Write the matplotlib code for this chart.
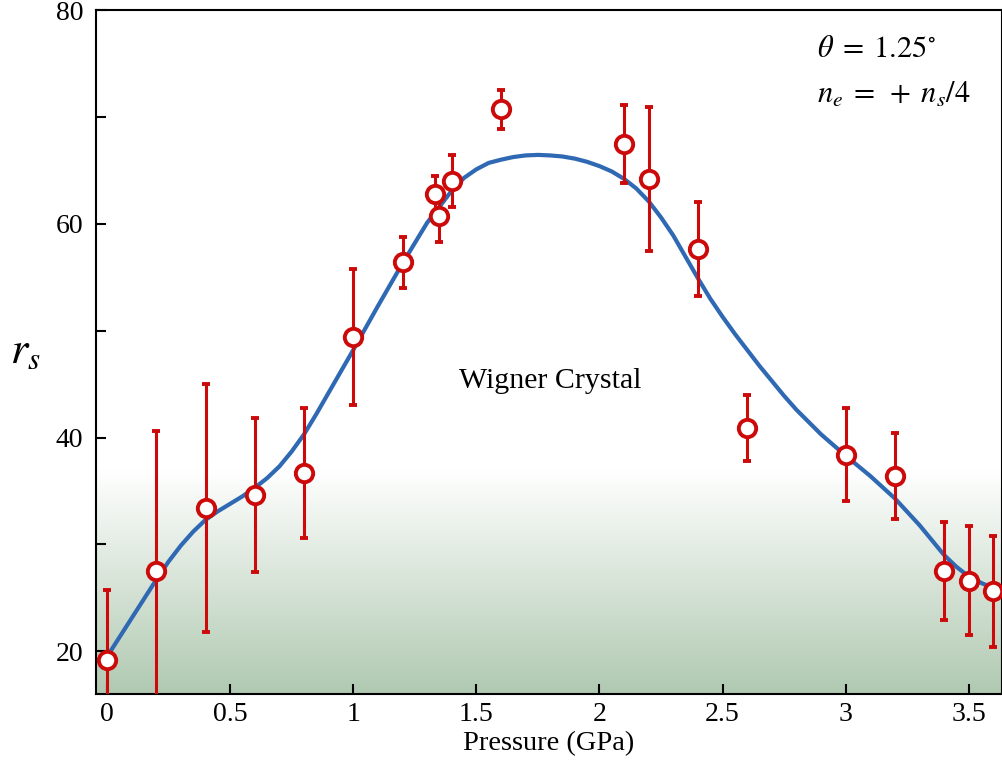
import numpy as np
import matplotlib
matplotlib.use("Agg")
import matplotlib.pyplot as plt
from matplotlib.ticker import FixedLocator, FuncFormatter
from matplotlib.colors import LinearSegmentedColormap

plt.rcParams['font.family'] = ['Liberation Serif', 'DejaVu Serif']
plt.rcParams['mathtext.fontset'] = 'stix'

# measured points: pressure (GPa), r_s, symmetric error
pressure = [0.0, 0.2, 0.4, 0.6, 0.8, 1.0, 1.2, 1.33, 1.35, 1.4, 1.6,
            2.1, 2.2, 2.4, 2.6, 3.0, 3.2, 3.4, 3.5, 3.6]
rs = [19.2, 27.5, 33.4, 34.6, 36.7, 49.4, 56.4, 62.8, 60.7, 64.0, 70.7,
      67.5, 64.2, 57.6, 40.9, 38.4, 36.4, 27.5, 26.6, 25.6]
rs_err = [6.5, 13.1, 11.6, 7.2, 6.1, 6.4, 2.4, 1.7, 2.4, 2.4, 1.85,
          3.65, 6.7, 4.4, 3.1, 4.35, 4.0, 4.6, 5.1, 5.2]

# guide-to-the-eye curve
curve_p = [0.0, 0.05, 0.1, 0.15, 0.2, 0.25, 0.3, 0.35, 0.4, 0.45, 0.5,
           0.55, 0.6, 0.65, 0.7, 0.75, 0.8, 0.85, 0.9, 1.0, 1.1, 1.2, 1.3,
           1.4, 1.45, 1.5, 1.55, 1.6, 1.65, 1.7, 1.75, 1.8, 1.85, 1.9, 1.95,
           2.0, 2.05, 2.1, 2.15, 2.2, 2.25, 2.3, 2.35, 2.4, 2.45, 2.5, 2.55,
           2.6, 2.65, 2.7, 2.75, 2.8, 2.9, 3.0, 3.1, 3.2, 3.3, 3.35, 3.4,
           3.45, 3.5, 3.55, 3.6, 3.65]
curve_rs = [19.5, 21.3, 23.1, 24.9, 26.7, 28.4, 29.9, 31.2, 32.3, 33.1, 33.8,
            34.5, 35.3, 36.2, 37.3, 38.7, 40.3, 42.2, 44.2, 48.2, 52.3, 56.3,
            60.1, 63.1, 64.3, 65.1, 65.7, 66.0, 66.25, 66.4, 66.45, 66.4, 66.3,
            66.1, 65.8, 65.4, 64.9, 64.2, 63.3, 62.1, 60.6, 58.9, 56.9, 54.9,
            53.0, 51.3, 49.7, 48.2, 46.7, 45.3, 43.9, 42.6, 40.3, 38.3, 36.4,
            34.3, 31.8, 30.4, 29.0, 27.9, 27.0, 26.4, 25.9, 25.6]

xticks = [0, 0.5, 1, 1.5, 2, 2.5, 3, 3.5]
yticks = [20, 40, 60, 80]
yminor = [30, 50, 70]

red = '#cc0a0a'
blue = '#2f69b3'

fig = plt.figure(figsize=(10.02, 7.65), dpi=100)
ax = fig.add_axes([0.0958, 0.0928, 0.9042, 0.894])
xmin, xmax, ymin, ymax = -0.045, 3.635, 16, 80

# green shaded band at the bottom
cmap = LinearSegmentedColormap.from_list('g', ['#b0c9b1', '#ffffff'])
grad = np.linspace(0, 1, 256).reshape(-1, 1)
ax.imshow(grad, extent=[xmin, xmax, ymin, 37.0], origin='lower', cmap=cmap,
          aspect='auto', zorder=0)

ax.plot(curve_p, curve_rs, color=blue, lw=3.0, zorder=2,
        solid_joinstyle='round')
ax.errorbar(pressure, rs, yerr=rs_err, fmt='o', color=red, ecolor=red,
            elinewidth=2.2, capsize=3, capthick=2.2, markersize=12.5,
            markerfacecolor='white', markeredgecolor=red, markeredgewidth=2.8,
            zorder=3)

ax.set_xlim(xmin, xmax)
ax.set_ylim(ymin, ymax)
ax.xaxis.set_major_locator(FixedLocator(xticks))
ax.xaxis.set_major_formatter(FuncFormatter(lambda v, p: f'{v:g}'))
ax.yaxis.set_major_locator(FixedLocator(yticks))
ax.yaxis.set_minor_locator(FixedLocator(yminor))
ax.tick_params(axis='both', which='both', direction='in', length=7, width=1.5,
               labelsize=20)
ax.tick_params(axis='y', which='both', pad=9)
ax.tick_params(axis='x', which='both', pad=6)
for s in ax.spines.values():
    s.set_linewidth(1.5)

ax.set_xlabel('Pressure (GPa)', fontsize=20.5, labelpad=3)
ax.set_ylabel(r'$r_s$', fontsize=32, rotation=0, labelpad=22, va='center')

ax.text(1.80, 45.3, 'Wigner Crystal', fontsize=21.5, ha='center', va='center')
ax.text(2.885, 76.3, r'$\theta\;=\;1.25^{\circ}$', fontsize=22, ha='left',
        va='center')
ax.text(2.885, 72.0, r'$n_e\;=\;+\;n_s/4$', fontsize=22, ha='left',
        va='center')

fig.savefig('out.png', dpi=100)
